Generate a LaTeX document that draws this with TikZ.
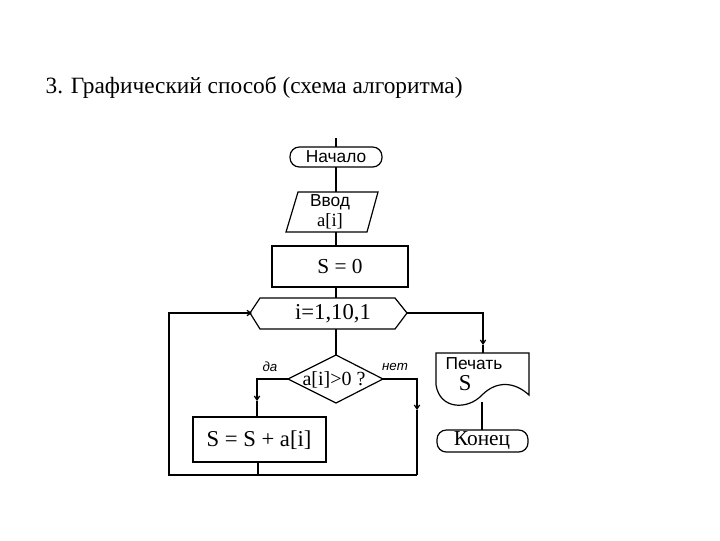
\documentclass[tikz,border=0pt]{standalone}
\usepackage{fontspec}
\usetikzlibrary{arrows.meta}
\setmainfont{Liberation Serif}
\newfontfamily\ars{Liberation Sans}
\begin{document}
\begin{tikzpicture}[x=0.75pt,y=-0.75pt,line width=0.9pt,
  arr/.style={-{Straight Barb[length=3pt,width=4pt]}},
  lbl/.style={inner sep=0pt,font=\fontsize{16}{18}\selectfont}]
\useasboundingbox (0,0) rectangle (720,540);
\node[anchor=west,inner sep=0pt,font=\fontsize{17.5}{20}\selectfont] (title) at (45,88) {3. Графический способ (схема алгоритма)};
% start
\draw[rounded corners=7pt] (290,147) rectangle (382,167);
\node[lbl,font=\ars\fontsize{13}{15}\selectfont] (start) at (336,157) {Начало};
\coordinate (top) at (336,138);
\draw (top) -- (336,147);
% input
\draw (298,192) -- (378,192) -- (367,232) -- (286,232) -- cycle;
\node[lbl,align=center,font=\fontsize{14}{15}\selectfont] (inp) at (330,212) {{\ars\fontsize{13}{15}\selectfont Ввод}\\a[i]};
\draw (336,167) -- (336,192);
\draw (336,232) -- (336,246);
% S=0
\draw (272,246) rectangle (408,287);
\node[lbl] (s0) at (340,267) {S = 0};
\draw (336,287) -- (336,298);
% loop hexagon
\draw (250,313) -- (260,298) -- (395,298) -- (407,313) -- (395,329) -- (260,329) -- cycle;
\node[lbl,font=\fontsize{17}{19}\selectfont] (loop) at (333,314) {i=1,10,1};
\draw (336,329) -- (336,355);
% diamond
\draw (288,379) -- (336,355) -- (383,379) -- (336,403) -- cycle;
\node[lbl,font=\fontsize{15}{17}\selectfont] (cond) at (334,380) {a[i]>0 ?};
\node[lbl,font=\ars\itshape\fontsize{10}{12}\selectfont] (yes) at (270,367) {да};
\node[lbl,font=\ars\itshape\fontsize{10}{12}\selectfont] (no) at (395,367) {нет};
% yes branch
\draw[arr] (288,379) -- (257,379) -- (257,401);
\draw (257,401) -- (257,417);
\draw (193,417) rectangle (326,462);
\node[lbl,font=\fontsize{17}{19}\selectfont] (sum) at (259,440) {S = S + a[i]};
% no branch
\draw[arr] (383,379) -- (417,379) -- (417,410);
\draw (417,410) -- (417,475);
% return
\draw (258,462) -- (258,475);
\draw[arr] (417,475) -- (169,475) -- (169,313) -- (252,313);
% exit
\draw[arr] (407,313) -- (483,313) -- (483,345);
\draw (483,345) -- (483,353);
% print
\draw (436,353) -- (529,353) -- (529,395) .. controls (515,382) and (497,380) .. (482,395)
  .. controls (468,410) and (440,410) .. (436,385) -- cycle;
\node[lbl,align=left,anchor=north west,font=\ars\fontsize{13}{15}\selectfont] (pr) at (445,357) {Печать\\[1pt]\hspace*{10pt}{\rmfamily\fontsize{17}{19}\selectfont S}};
\draw (482,402) -- (482,430);
% end
\draw[rounded corners=7pt] (437,430) rectangle (528,452);
\node[lbl] (end) at (482,441) {Конец};
\end{tikzpicture}
\end{document}
